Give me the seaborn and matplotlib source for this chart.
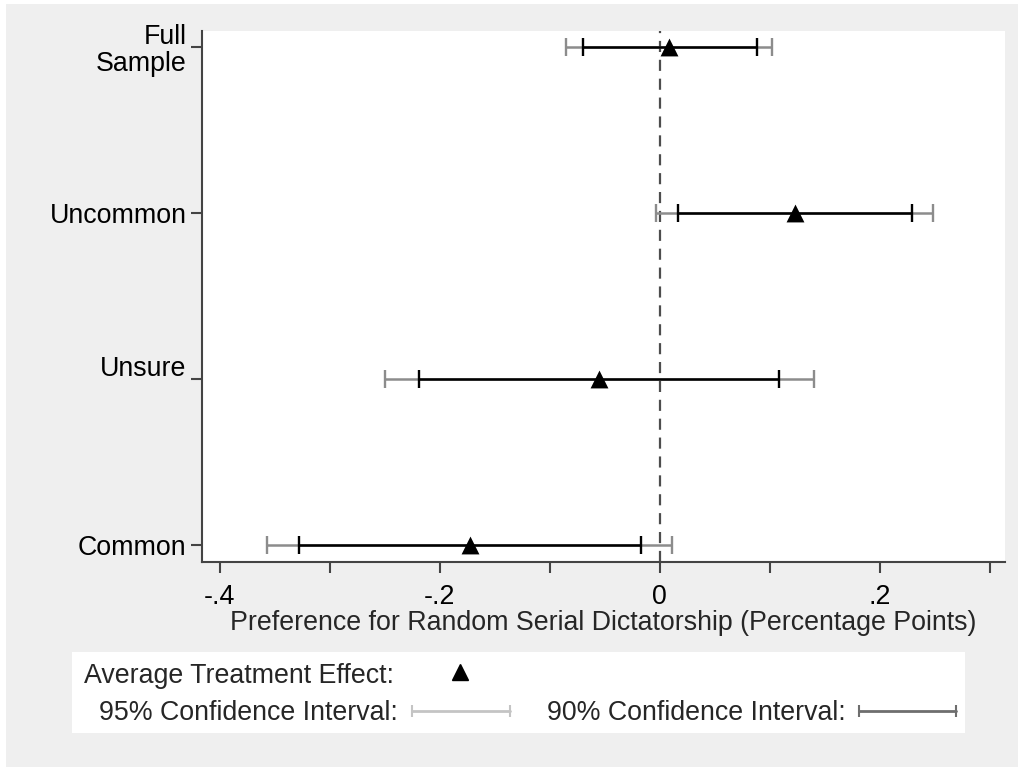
import numpy as np
import pandas as pd
import matplotlib
matplotlib.use('Agg')
import matplotlib.pyplot as plt
import seaborn as sns
from matplotlib.patches import Rectangle

# Subgroups, top to bottom
groups = ['Full Sample', 'Uncommon', 'Unsure', 'Common']
ytick_labels = ['Full\nSample', 'Uncommon', 'Unsure\n ', 'Common']

# Average treatment effects and confidence intervals
ate = [0.0085, 0.123, -0.055, -0.1726]
ci90_lo = [-0.070, 0.0164, -0.2187, -0.3275]
ci90_hi = [0.088, 0.229, 0.1084, -0.017]
ci95_lo = [-0.085, -0.0034, -0.250, -0.3566]
ci95_hi = [0.102, 0.2487, 0.1397, 0.0109]

xticks = [-0.4, -0.3, -0.2, -0.1, 0, 0.1, 0.2, 0.3]
xtick_labels = ['-.4', '', '-.2', '', '0', '', '.2', '']

df = pd.DataFrame({'group': groups, 'ate': ate,
                   'lo90': ci90_lo, 'hi90': ci90_hi,
                   'lo95': ci95_lo, 'hi95': ci95_hi})
df['y'] = np.arange(len(df))[::-1] + 1

sns.set_style('white')
plt.rcParams['font.family'] = ['Liberation Sans', 'DejaVu Sans']
fs = 19.3

fig = plt.figure(figsize=(10.18, 7.67), dpi=100)
fig.patch.set_facecolor('white')
fig.add_artist(Rectangle((6 / 1018, 0), 1, 1 - 4 / 767, transform=fig.transFigure,
                         facecolor='#efefef', edgecolor='none', zorder=-10))

ax = fig.add_axes([202 / 1018, 1 - 562 / 767, (1005 - 202) / 1018, (562 - 31) / 767])
ax.set_facecolor('white')

# 95% CI (gray), then 90% CI (black)
ax.errorbar(df['ate'], df['y'], xerr=[df['ate'] - df['lo95'], df['hi95'] - df['ate']],
            fmt='none', ecolor='#8c8c8c', elinewidth=1.8, capsize=6.5, capthick=1.7, zorder=2)
ax.errorbar(df['ate'], df['y'], xerr=[df['ate'] - df['lo90'], df['hi90'] - df['ate']],
            fmt='none', ecolor='black', elinewidth=1.8, capsize=6.5, capthick=1.7, zorder=3)
sns.scatterplot(data=df, x='ate', y='y', marker='^', s=165, color='black',
                edgecolor='black', linewidth=0, zorder=4, ax=ax, legend=False)

ax.axvline(0, color='#4d4d4d', lw=1.6, ls=(0, (5, 3.5)), zorder=1)

ax.set_xlim(-0.416, 0.3137)
ax.set_ylim(0.898, 4.096)
ax.set_xticks(xticks)
ax.set_xticklabels(xtick_labels)
ax.set_yticks(df['y'])
ax.set_yticklabels(ytick_labels, multialignment='right', linespacing=1.05)
ax.tick_params(axis='both', labelsize=fs, colors='#444444', labelcolor='black',
               direction='out', length=8, width=1.5, left=True, bottom=True, pad=3)
ax.tick_params(axis='x', pad=8)
ax.set_xlabel('Preference for Random Serial Dictatorship (Percentage Points)',
              fontsize=fs, labelpad=0)
ax.set_ylabel('')
for s in ['top', 'right']:
    ax.spines[s].set_visible(False)
for s in ['left', 'bottom']:
    ax.spines[s].set_color('#444444')
    ax.spines[s].set_linewidth(1.5)

# Legend box
lax = fig.add_axes([72 / 1018, 1 - 733 / 767, (965 - 72) / 1018, (733 - 652) / 767])
lax.set_xlim(72, 965)
lax.set_ylim(733, 652)
lax.set_facecolor('white')
for s in lax.spines.values():
    s.set_visible(False)
lax.set_xticks([])
lax.set_yticks([])
lax.text(84, 676, 'Average Treatment Effect:', fontsize=fs, va='center', ha='left')
lax.plot([460], [672], marker='^', color='black', ms=11, ls='none')
lax.text(398, 713, '95% Confidence Interval:', fontsize=fs, va='center', ha='right')
lax.plot([412, 510], [711, 711], color='#c4c4c4', lw=2)
lax.plot([412, 510], [711, 711], color='#c4c4c4', marker='|', ms=9, mew=1.5, ls='none')
lax.text(846, 713, '90% Confidence Interval:', fontsize=fs, va='center', ha='right')
lax.plot([859, 956], [711, 711], color='#6e6e6e', lw=2)
lax.plot([859, 956], [711, 711], color='#6e6e6e', marker='|', ms=9, mew=1.5, ls='none')

fig.savefig('out.png', dpi=100)
